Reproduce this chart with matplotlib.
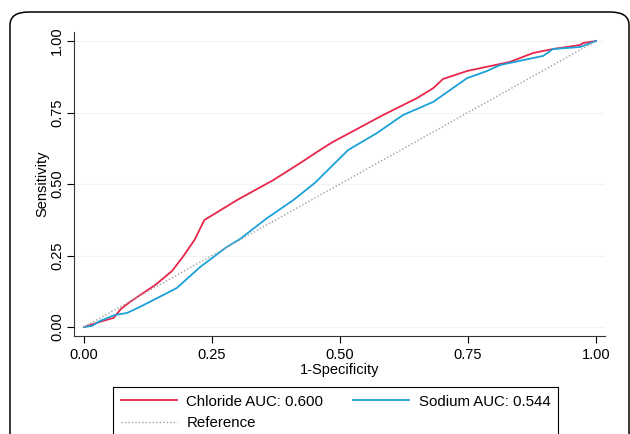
import matplotlib
matplotlib.use("Agg")
import matplotlib.pyplot as plt
from matplotlib.patches import FancyBboxPatch
from matplotlib.lines import Line2D

plt.rcParams['font.family'] = ['Liberation Sans', 'DejaVu Sans']

# ROC curves
chloride_x = [0.0, 0.012, 0.031, 0.058, 0.072, 0.09, 0.11, 0.14, 0.172, 0.193, 0.216, 0.235,
              0.30, 0.37, 0.422, 0.461, 0.486, 0.584, 0.650, 0.682, 0.701, 0.748,
              0.832, 0.877, 0.916, 0.969, 0.975, 1.0]
chloride_y = [0.0, 0.007, 0.018, 0.032, 0.063, 0.088, 0.112, 0.148, 0.196, 0.245, 0.305, 0.374,
              0.445, 0.514, 0.573, 0.619, 0.647, 0.741, 0.800, 0.835, 0.867, 0.895,
              0.927, 0.958, 0.972, 0.986, 0.993, 1.0]

sodium_x = [0.0, 0.016, 0.031, 0.06, 0.084, 0.109, 0.181, 0.227, 0.279, 0.305, 0.357, 0.409,
            0.451, 0.516, 0.572, 0.623, 0.682, 0.748, 0.787, 0.8125, 0.897, 0.916,
            0.969, 1.0]
sodium_y = [0.0, 0.004, 0.021, 0.042, 0.049, 0.07, 0.136, 0.21, 0.28, 0.308, 0.38, 0.444,
            0.504, 0.619, 0.678, 0.741, 0.787, 0.87, 0.895, 0.916, 0.948, 0.972,
            0.979, 1.0]

ref_x = [0.0, 1.0]
ref_y = [0.0, 1.0]

labels = ["Chloride AUC: 0.600", "Sodium AUC: 0.544", "Reference"]
ticks = [0.0, 0.25, 0.5, 0.75, 1.0]
tick_labels = ["0.00", "0.25", "0.50", "0.75", "1.00"]

red = "#e8264c"
blue = "#1ba1d8"

fig = plt.figure(figsize=(6.3, 4.34), dpi=100)

# rounded outer frame (cut off at the bottom)
frame = FancyBboxPatch((10 / 630, -0.2), 619 / 630, 1 - 12 / 434 + 0.2,
                       boxstyle="round,pad=0,rounding_size=0.03",
                       transform=fig.transFigure, fill=False,
                       edgecolor="black", linewidth=1.1)
fig.patches.append(frame)

ax = fig.add_axes([74 / 630, 1 - 336 / 434, (605 - 74) / 630, (336 - 32) / 434])

ax.plot(chloride_x, chloride_y, color=red, lw=1.3)
ax.plot(sodium_x, sodium_y, color=blue, lw=1.3)
ax.plot(ref_x, ref_y, color="#a0a0a0", lw=1.0, linestyle=(0, (1, 1.5)))

ax.set_xlim(-10 / 512, 1 + 9 / 512)
ax.set_ylim(-9 / 286, 1 + 9 / 286)

ax.set_xticks(ticks)
ax.set_xticklabels(tick_labels)
ax.set_yticks(ticks)
ax.set_yticklabels(tick_labels, rotation=90, va="center")
ax.tick_params(direction="out", length=5, width=0.8, labelsize=10.5, colors="black")
ax.tick_params(axis="y", pad=2)
ax.grid(axis="y", color="#f3f3f3", lw=0.8)

for s in ["top", "right"]:
    ax.spines[s].set_visible(False)
for s in ["left", "bottom"]:
    ax.spines[s].set_linewidth(0.8)
    ax.spines[s].set_color("#333333")

ax.set_xlabel("1-Specificity", fontsize=10.5, labelpad=1)
ax.set_ylabel("Sensitivity", fontsize=10.5, labelpad=1)

handles = [Line2D([], [], color=red, lw=1.3),
           Line2D([], [], color="#a0a0a0", lw=1.0, linestyle=(0, (1, 1.5))),
           Line2D([], [], color=blue, lw=1.3)]
leg = fig.legend(handles, [labels[0], labels[2], labels[1]], ncol=2,
                 loc="upper left", bbox_to_anchor=(113 / 630, 1 - 387 / 434),
                 fontsize=10.8, handlelength=3.75, handletextpad=0.65,
                 columnspacing=1.95, borderaxespad=0, borderpad=0.5, labelspacing=0.5,
                 fancybox=False, edgecolor="black", framealpha=1)
leg.get_frame().set_linewidth(0.8)

fig.savefig("out.png", dpi=100)
